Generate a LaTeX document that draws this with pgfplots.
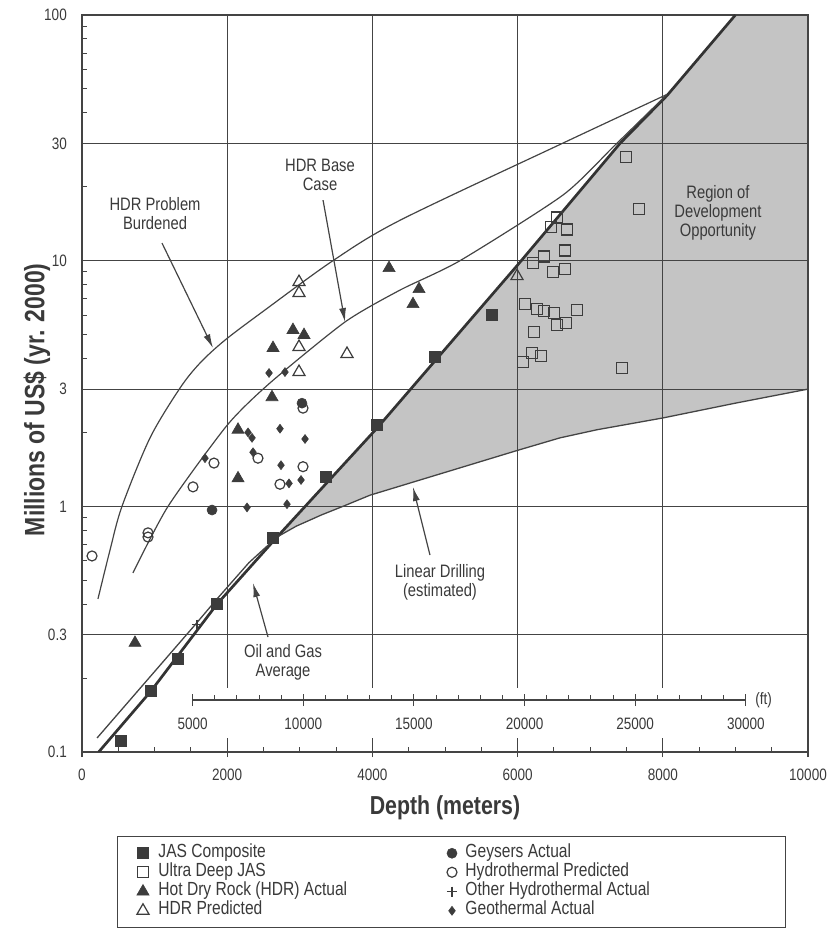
\documentclass[border=0pt]{standalone}
\usepackage{fontspec}
\setmainfont{Liberation Sans}[FakeStretch=0.82]
\usepackage{pgfplots}
\pgfplotsset{compat=1.18}
\usetikzlibrary{arrows.meta}
\definecolor{ink}{HTML}{3A3A3A}
\definecolor{gridc}{HTML}{444444}
\definecolor{mk}{HTML}{3C3C3C}
\definecolor{shadec}{HTML}{C4C4C4}
\pgfplotsset{pt/.style={only marks, legend image code/.code={\path (-7bp,0bp) (7bp,0bp); \draw[##1] plot coordinates {(0bp,0bp)};}}}
\begin{document}
\begin{tikzpicture}
\begin{axis}[
  at={(0,0)}, anchor=south west,
  scale only axis, width=726bp, height=737bp,
  set layers=standard,
  xmin=0, xmax=10000, ymin=0.1, ymax=100, ymode=log,
  scaled x ticks=false,
  xtick={0,2000,4000,6000,8000,10000},
  xticklabels={0,2000,4000,6000,8000,10000},
  minor xtick={500,1000,1500,2500,3000,3500,4500,5000,5500,6500,7000,7500,8500,9000,9500},
  ytick={0.1,0.3,1,3,10,30,100},
  yticklabels={0.1,0.3,1,3,10,30,100},
  minor ytick={0.2,0.4,0.5,0.6,0.7,0.8,0.9,2,4,5,6,7,8,9,20,40,50,60,70,80,90},
  /pgf/number format/assume math mode=true,
  xmajorgrids, ymajorgrids,
  grid style={line width=1.2bp, draw=gridc},
  axis line style={line width=1.3bp, draw=gridc},
  xtick pos=bottom, ytick pos=left,
  tick align=inside,
  major tick length=10bp, minor tick length=5bp,
  major x tick style={line width=1.1bp, draw=gridc, yshift=-5bp},
  minor x tick style={line width=1bp, draw=gridc},
  major y tick style={draw=none},
  minor y tick style={line width=1bp, draw=gridc},
  xticklabel style={font=\fontsize{16.5bp}{18bp}\selectfont, text=ink, anchor=center, yshift=-23bp},
  yticklabel style={font=\fontsize{16.5bp}{18bp}\selectfont, text=ink, anchor=east, inner sep=0bp, xshift=-15bp},
  xlabel={Depth (meters)},
  ylabel={Millions of US\$ (yr. 2000)},
  every axis x label/.style={at={(axis description cs:0.5,-0.076)}, anchor=center, font=\bfseries\fontsize{26bp}{28bp}\selectfont, text=ink},
  every axis y label/.style={at={(axis description cs:-0.062,0.478)}, anchor=center, rotate=90, font=\bfseries\fontsize{28bp}{30bp}\selectfont, text=ink},
  legend columns=2,
  legend cell align=left,
  legend style={at={(axis description cs:0.0482,-0.114)}, anchor=north west,
    draw=gridc, line width=1bp, fill=white,
    inner xsep=18bp, inner ysep=10bp, row sep=5.5bp, column sep=0bp,
    font=\fontsize{19bp}{20bp}\selectfont, text=ink,
    nodes={inner sep=0bp, text height=10.5bp, text depth=3bp}},
]
% shaded region of development opportunity
\addplot[draw=none, fill=shadec, on layer=axis background, forget plot] coordinates {
 (2686,0.75) (4063,2.08) (6000,9.6) (7410,30) (8058,47) (9000,100) (10000,100) (10000,3.0)
 (9000,2.63) (8003,2.29) (7094,2.05) (6584,1.90) (6000,1.69) (3967,1.11) (3595,1.0)
 (3300,0.923) (2950,0.83) (2686,0.75)} -- cycle;
% white box behind feet scale
\fill[white] (axis cs:1300,0.114) rectangle (axis cs:9900,0.182);
% feet scale
\draw[gridc, line width=1.2bp] (axis cs:1524,0.1628) -- (axis cs:9144,0.1628);
\pgfplotsinvokeforeach{5,...,30}{\draw[gridc, line width=1bp] (axis cs:{#1*304.8},0.1628) -- ([yshift=5bp]axis cs:{#1*304.8},0.1628);}
\pgfplotsinvokeforeach{5,10,15,20,25,30}{\draw[gridc, line width=1.1bp] ([yshift=-6bp]axis cs:{#1*304.8},0.1628) -- ([yshift=6bp]axis cs:{#1*304.8},0.1628);
  \node[font=\fontsize{16.5bp}{18bp}\selectfont, text=ink] at (axis cs:{#1*304.8},0.130) {#1000};}
\node[font=\fontsize{16.5bp}{18bp}\selectfont, text=ink, anchor=west] at (axis cs:9144,0.1628) {\hspace{6bp}(ft)};
% curves
\addplot[black!80, line width=2.7bp, forget plot] coordinates {
 (230,0.1) (950,0.177) (1860,0.40) (2686,0.75) (4063,2.08) (6000,9.6) (7410,30) (8058,47) (9000,100)};
\addplot[gridc, line width=1.3bp, forget plot] coordinates {
 (207,0.114) (1556,0.329) (1860,0.42) (2300,0.59) (2686,0.75) (2950,0.83) (3300,0.923) (3595,1.0) (3967,1.11)
 (6000,1.69) (6584,1.90) (7094,2.05) (8003,2.29) (9000,2.63) (10000,3.0)};
\addplot[gridc, line width=1.2bp, smooth, tension=0.5, forget plot] coordinates {
 (220,0.42) (386,0.664) (551,1.0) (937,1.90) (1350,3.03) (1625,3.83) (1970,4.75) (2521,6.30) (3457,10.0) (4380,14.6)
 (6625,30.1) (8058,47.5)};
\addplot[gridc, line width=1.2bp, smooth, tension=0.4, forget plot] coordinates {
 (702,0.536) (1185,1.0) (2000,2.14) (2590,3.18) (3623,5.63) (4380,7.59) (5207,10.0) (6625,18.5) (7340,29.5) (8058,47.5)};
% data series
\addplot[pt, mark=square*, mark size=5.5bp, mark options={fill=mk, draw=mk, line width=0.8bp}] coordinates {
 (537,0.111) (950,0.177) (1322,0.239) (1860,0.40) (2631,0.743) (3361,1.32) (4063,2.14) (4862,4.06) (5647,6.0)};
\addlegendentry{\makebox[294bp][l]{\hspace{8bp}JAS Composite}}
\addplot[pt, mark=*, mark size=5bp, mark options={fill=mk, draw=mk, line width=0.6bp}] coordinates {
 (3030,2.63) (1791,0.966)};
\addlegendentry{\makebox[308bp][l]{\hspace{6bp}Geysers Actual}}
\addplot[pt, mark=square, mark size=5.5bp, mark options={draw=mk, line width=1.3bp}] coordinates {
 (7493,26.4) (7672,16.2) (6543,15.0) (6460,13.7) (6680,13.4) (6653,11.0) (6364,10.4) (6212,9.8) (6488,9.0) (6653,9.25)
 (6102,6.65) (6267,6.35) (6364,6.24) (6501,6.12) (6818,6.3) (6543,5.47) (6667,5.57) (6226,5.12) (6198,4.2) (6322,4.1)
 (6074,3.87) (7438,3.66)};
\addlegendentry{\makebox[294bp][l]{\hspace{8bp}Ultra Deep JAS}}
\addplot[pt, mark=o, mark size=5bp, mark options={draw=mk, line width=1.2bp}] coordinates {
 (3044,2.51) (1818,1.50) (2424,1.57) (1529,1.20) (3044,1.45) (2727,1.23) (909,0.78) (909,0.75) (138,0.628)};
\addlegendentry{\makebox[308bp][l]{\hspace{6bp}Hydrothermal Predicted}}
\addplot[pt, mark=triangle*, mark size=7bp, mark options={fill=mk, draw=mk, line width=0.6bp}] coordinates {
 (4229,9.33) (4642,7.66) (4559,6.65) (2906,5.22) (3058,4.98) (2631,4.41) (2617,2.78) (2149,2.05) (2149,1.30) (730,0.278)};
\addlegendentry{\makebox[294bp][l]{\hspace{8bp}Hot Dry Rock (HDR) Actual}}
\addplot[pt, mark=+, mark size=5bp, mark options={draw=mk, line width=1.2bp}] coordinates {
 (1584,0.33)};
\addlegendentry{\makebox[308bp][l]{\hspace{6bp}Other Hydrothermal Actual}}
\addplot[pt, mark=triangle, mark size=7bp, mark options={draw=mk, line width=1.2bp}] coordinates {
 (2989,8.18) (2989,7.38) (2989,4.45) (3650,4.17) (2989,3.52) (5992,8.65)};
\addlegendentry{\makebox[294bp][l]{\hspace{8bp}HDR Predicted}}
\addplot[pt, mark=diamond*, mark size=4.5bp, mark options={fill=mk, draw=mk, line width=0.5bp}] coordinates {
 (2576,3.49) (2796,3.52) (2287,2.0) (2342,1.90) (2727,2.07) (3072,1.88) (2356,1.66) (1694,1.57) (2741,1.47)
 (2851,1.24) (3017,1.28) (2273,0.99) (2824,1.02)};
\addlegendentry{\makebox[308bp][l]{\hspace{6bp}Geothermal Actual}}
% annotations
\begin{scope}[font=\fontsize{18bp}{19bp}\selectfont, text=ink]
\node[align=center] at (axis cs:1006,15.48) {HDR Problem\\Burdened};
\node[align=center] at (axis cs:3278,22.31) {HDR Base\\Case};
\node[align=center] at (axis cs:4931,0.4918) {Linear Drilling\\(estimated)};
\node[align=center] at (axis cs:2769,0.2324) {Oil and Gas\\Average};
\node[align=center] at (axis cs:8760,15.62) {Region of\\Development\\Opportunity};
\end{scope}
\begin{scope}[gridc, line width=1.2bp, -{Latex[length=14bp,width=7bp]}]
\draw (axis cs:1102,11.79) -- (axis cs:1804,4.41);
\draw (axis cs:3320,17.64) -- (axis cs:3623,5.626);
\draw (axis cs:4793,0.6334) -- (axis cs:4559,1.198);
\draw (axis cs:2562,0.2938) -- (axis cs:2355,0.4873);
\end{scope}
\end{axis}
\pgfresetboundingbox
\path[use as bounding box] (-82bp,-180bp) rectangle (747bp,752bp);
\end{tikzpicture}
\end{document}
